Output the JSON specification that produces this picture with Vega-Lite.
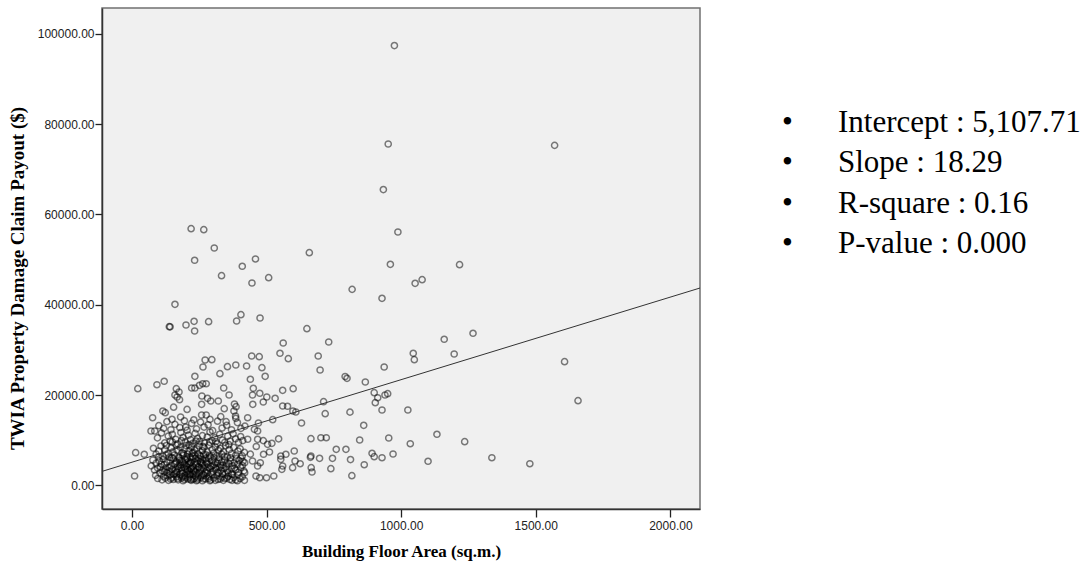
{
  "$schema": "https://vega.github.io/schema/vega-lite/v6.json",
  "background": "white",
  "padding": {"left": 7, "top": 7, "right": 5, "bottom": 2},
  "spacing": 87.5,
  "bounds": "flush",
  "config": {"font": "Liberation Sans"},
  "datasets": {
    "claims": [
      {"area": 975, "payout": 97400}, {"area": 952, "payout": 75600}, {"area": 1570, "payout": 75300}, {"area": 934, "payout": 65500}, {"area": 988, "payout": 56100},
      {"area": 220, "payout": 56840}, {"area": 267, "payout": 56620}, {"area": 306, "payout": 52560}, {"area": 233, "payout": 49840}, {"area": 659, "payout": 51520},
      {"area": 410, "payout": 48510}, {"area": 459, "payout": 50130}, {"area": 333, "payout": 46430}, {"area": 446, "payout": 44810}, {"area": 508, "payout": 45990},
      {"area": 818, "payout": 43400}, {"area": 160, "payout": 40090}, {"area": 139, "payout": 35130}, {"area": 142, "payout": 35100}, {"area": 201, "payout": 35510},
      {"area": 231, "payout": 36320}, {"area": 233, "payout": 34180}, {"area": 285, "payout": 36240}, {"area": 389, "payout": 36390}, {"area": 405, "payout": 37790},
      {"area": 476, "payout": 37060}, {"area": 650, "payout": 34690}, {"area": 731, "payout": 31740}, {"area": 562, "payout": 31520},
      {"area": 550, "payout": 29240}, {"area": 581, "payout": 28040}, {"area": 692, "payout": 28640}, {"area": 699, "payout": 25540}, {"area": 792, "payout": 24100},
      {"area": 799, "payout": 23700}, {"area": 810, "payout": 16200}, {"area": 445, "payout": 28640}, {"area": 473, "payout": 28490}, {"area": 272, "payout": 27750},
      {"area": 297, "payout": 27820}, {"area": 264, "payout": 26200}, {"area": 355, "payout": 26270}, {"area": 386, "payout": 26650}, {"area": 426, "payout": 26420},
      {"area": 483, "payout": 26050}, {"area": 327, "payout": 24720}, {"area": 495, "payout": 24140}, {"area": 234, "payout": 24140}, {"area": 440, "payout": 23480},
      {"area": 263, "payout": 22500}, {"area": 276, "payout": 22500}, {"area": 251, "payout": 22150}, {"area": 222, "payout": 21550}, {"area": 234, "payout": 21550},
      {"area": 120, "payout": 23040}, {"area": 93, "payout": 22280}, {"area": 22, "payout": 21400}, {"area": 165, "payout": 21400}, {"area": 175, "payout": 20670},
      {"area": 160, "payout": 20000}, {"area": 177, "payout": 18960}, {"area": 168, "payout": 19560}, {"area": 341, "payout": 21550}, {"area": 361, "payout": 20000},
      {"area": 451, "payout": 21490}, {"area": 475, "payout": 20380}, {"area": 560, "payout": 21040}, {"area": 599, "payout": 21400}, {"area": 501, "payout": 19560},
      {"area": 488, "payout": 18450}, {"area": 448, "payout": 20000}, {"area": 449, "payout": 17940}, {"area": 532, "payout": 19270}, {"area": 560, "payout": 17560},
      {"area": 578, "payout": 17500}, {"area": 598, "payout": 16460}, {"area": 609, "payout": 16240}, {"area": 630, "payout": 13800}, {"area": 712, "payout": 18520},
      {"area": 718, "payout": 15860}, {"area": 523, "payout": 14530}, {"area": 260, "payout": 19780}, {"area": 281, "payout": 19270}, {"area": 293, "payout": 18670},
      {"area": 321, "payout": 18670}, {"area": 343, "payout": 16970}, {"area": 259, "payout": 17940}, {"area": 259, "payout": 15570}, {"area": 276, "payout": 15570},
      {"area": 381, "payout": 18010}, {"area": 387, "payout": 17410}, {"area": 379, "payout": 16460}, {"area": 385, "payout": 15350}, {"area": 386, "payout": 14840},
      {"area": 430, "payout": 14970}, {"area": 77, "payout": 14970}, {"area": 115, "payout": 16460}, {"area": 124, "payout": 16080}, {"area": 149, "payout": 14620},
      {"area": 181, "payout": 15130}, {"area": 71, "payout": 12030}, {"area": 85, "payout": 12030}, {"area": 14, "payout": 7220}, {"area": 46, "payout": 6870},
      {"area": 10, "payout": 2060}, {"area": 665, "payout": 10320}, {"area": 702, "payout": 10540}, {"area": 722, "payout": 10540}, {"area": 759, "payout": 7970},
      {"area": 795, "payout": 7970}, {"area": 665, "payout": 6490}, {"area": 663, "payout": 6200}, {"area": 697, "payout": 5980}, {"area": 745, "payout": 5980},
      {"area": 739, "payout": 3680}, {"area": 666, "payout": 3900}, {"area": 669, "payout": 2950}, {"area": 812, "payout": 5700}, {"area": 603, "payout": 7600},
      {"area": 572, "payout": 6870}, {"area": 553, "payout": 6490}, {"area": 606, "payout": 5380}, {"area": 625, "payout": 4780}, {"area": 553, "payout": 5760},
      {"area": 560, "payout": 4270}, {"area": 597, "payout": 3900}, {"area": 557, "payout": 3540}, {"area": 527, "payout": 2060}, {"area": 500, "payout": 1680},
      {"area": 461, "payout": 2060}, {"area": 475, "payout": 1680}, {"area": 419, "payout": 2790}, {"area": 419, "payout": 5000}, {"area": 504, "payout": 9080},
      {"area": 511, "payout": 7380}, {"area": 489, "payout": 6870}, {"area": 477, "payout": 5000}, {"area": 467, "payout": 4270}, {"area": 448, "payout": 5380},
      {"area": 467, "payout": 10190}, {"area": 467, "payout": 12030},
      {"area": 960, "payout": 48950}, {"area": 1217, "payout": 48860}, {"area": 1052, "payout": 44740}, {"area": 1078, "payout": 45540}, {"area": 929, "payout": 41420},
      {"area": 1160, "payout": 32340}, {"area": 1267, "payout": 33670}, {"area": 1197, "payout": 29080}, {"area": 1045, "payout": 29240}, {"area": 1049, "payout": 27820},
      {"area": 1607, "payout": 27380}, {"area": 1657, "payout": 18740}, {"area": 937, "payout": 26200}, {"area": 867, "payout": 22880}, {"area": 900, "payout": 20510},
      {"area": 913, "payout": 19400}, {"area": 940, "payout": 20000}, {"area": 950, "payout": 20290}, {"area": 904, "payout": 18300}, {"area": 929, "payout": 16680},
      {"area": 1025, "payout": 16680}, {"area": 861, "payout": 13290}, {"area": 846, "payout": 10030}, {"area": 954, "payout": 10480}, {"area": 1133, "payout": 11300},
      {"area": 1034, "payout": 9210}, {"area": 1236, "payout": 9660}, {"area": 892, "payout": 7090}, {"area": 900, "payout": 6340}, {"area": 929, "payout": 6110},
      {"area": 970, "payout": 6930}, {"area": 863, "payout": 4560}, {"area": 817, "payout": 2130}, {"area": 1100, "payout": 5320}, {"area": 1337, "payout": 6110},
      {"area": 1478, "payout": 4780},
      {"area": 100, "payout": 13200}, {"area": 118, "payout": 12600}, {"area": 130, "payout": 14100}, {"area": 145, "payout": 12300}, {"area": 160, "payout": 13500},
      {"area": 178, "payout": 12800}, {"area": 195, "payout": 14300}, {"area": 205, "payout": 12200}, {"area": 222, "payout": 13700}, {"area": 240, "payout": 12500},
      {"area": 255, "payout": 14000}, {"area": 268, "payout": 12900}, {"area": 283, "payout": 13400}, {"area": 300, "payout": 12100}, {"area": 318, "payout": 14200},
      {"area": 335, "payout": 12700}, {"area": 352, "payout": 13300}, {"area": 370, "payout": 12300}, {"area": 392, "payout": 13900}, {"area": 405, "payout": 12600},
      {"area": 420, "payout": 13100}, {"area": 455, "payout": 12400}, {"area": 470, "payout": 13800},
      {"area": 95, "payout": 10500}, {"area": 110, "payout": 11600}, {"area": 122, "payout": 9400}, {"area": 135, "payout": 10900}, {"area": 142, "payout": 9800},
      {"area": 150, "payout": 11300}, {"area": 163, "payout": 10200}, {"area": 170, "payout": 9200}, {"area": 182, "payout": 11700}, {"area": 190, "payout": 10600},
      {"area": 198, "payout": 9600}, {"area": 210, "payout": 11100}, {"area": 218, "payout": 10100}, {"area": 226, "payout": 9300}, {"area": 235, "payout": 11500},
      {"area": 244, "payout": 10400}, {"area": 252, "payout": 9700}, {"area": 262, "payout": 11000}, {"area": 270, "payout": 9400}, {"area": 280, "payout": 10700},
      {"area": 290, "payout": 11800}, {"area": 298, "payout": 9900}, {"area": 308, "payout": 10500}, {"area": 317, "payout": 9200}, {"area": 326, "payout": 11300},
      {"area": 336, "payout": 10000}, {"area": 345, "payout": 9500}, {"area": 356, "payout": 10900}, {"area": 365, "payout": 9800}, {"area": 376, "payout": 11400},
      {"area": 385, "payout": 10300}, {"area": 396, "payout": 9500}, {"area": 404, "payout": 10800}, {"area": 412, "payout": 9900}, {"area": 430, "payout": 10200},
      {"area": 488, "payout": 9900}, {"area": 520, "payout": 9300}, {"area": 545, "payout": 10300},
      {"area": 80, "payout": 8200}, {"area": 90, "payout": 6900}, {"area": 100, "payout": 7600}, {"area": 108, "payout": 8700}, {"area": 115, "payout": 6400},
      {"area": 122, "payout": 7900}, {"area": 128, "payout": 8800}, {"area": 135, "payout": 7100}, {"area": 140, "payout": 6200}, {"area": 146, "payout": 8300},
      {"area": 152, "payout": 7400}, {"area": 158, "payout": 6700}, {"area": 164, "payout": 8900}, {"area": 168, "payout": 7800}, {"area": 174, "payout": 6300},
      {"area": 180, "payout": 8400}, {"area": 186, "payout": 7200}, {"area": 190, "payout": 6600}, {"area": 196, "payout": 8000}, {"area": 202, "payout": 8800},
      {"area": 207, "payout": 6900}, {"area": 212, "payout": 7600}, {"area": 218, "payout": 6200}, {"area": 222, "payout": 8500}, {"area": 228, "payout": 7300},
      {"area": 234, "payout": 6600}, {"area": 240, "payout": 8100}, {"area": 245, "payout": 7000}, {"area": 250, "payout": 8700}, {"area": 256, "payout": 6400},
      {"area": 262, "payout": 7700}, {"area": 268, "payout": 8400}, {"area": 274, "payout": 6800}, {"area": 280, "payout": 7400}, {"area": 286, "payout": 8900},
      {"area": 292, "payout": 6300}, {"area": 298, "payout": 7900}, {"area": 304, "payout": 7100}, {"area": 310, "payout": 8500}, {"area": 316, "payout": 6600},
      {"area": 322, "payout": 7700}, {"area": 328, "payout": 8200}, {"area": 334, "payout": 6900}, {"area": 340, "payout": 7400}, {"area": 348, "payout": 8800},
      {"area": 355, "payout": 6300}, {"area": 362, "payout": 7900}, {"area": 370, "payout": 7000}, {"area": 378, "payout": 8400}, {"area": 386, "payout": 6700},
      {"area": 394, "payout": 7600}, {"area": 402, "payout": 8100}, {"area": 410, "payout": 6500}, {"area": 418, "payout": 7300}, {"area": 440, "payout": 6900},
      {"area": 462, "payout": 8600},
      {"area": 72, "payout": 4300}, {"area": 78, "payout": 5600}, {"area": 84, "payout": 3400}, {"area": 90, "payout": 4900}, {"area": 96, "payout": 3800},
      {"area": 102, "payout": 5400}, {"area": 106, "payout": 4100}, {"area": 112, "payout": 3200}, {"area": 116, "payout": 5800}, {"area": 120, "payout": 4600},
      {"area": 125, "payout": 3600}, {"area": 130, "payout": 5100}, {"area": 134, "payout": 4000}, {"area": 138, "payout": 3100}, {"area": 142, "payout": 5500},
      {"area": 146, "payout": 4400}, {"area": 150, "payout": 3500}, {"area": 154, "payout": 5900}, {"area": 158, "payout": 4700}, {"area": 162, "payout": 3300},
      {"area": 166, "payout": 5200}, {"area": 170, "payout": 4100}, {"area": 174, "payout": 3700}, {"area": 178, "payout": 5600}, {"area": 182, "payout": 4500},
      {"area": 186, "payout": 3200}, {"area": 190, "payout": 5000}, {"area": 194, "payout": 3900}, {"area": 198, "payout": 5700}, {"area": 202, "payout": 4300},
      {"area": 206, "payout": 3400}, {"area": 210, "payout": 5300}, {"area": 214, "payout": 4800}, {"area": 218, "payout": 3600}, {"area": 222, "payout": 5800},
      {"area": 226, "payout": 4200}, {"area": 230, "payout": 3100}, {"area": 234, "payout": 5100}, {"area": 238, "payout": 4600}, {"area": 242, "payout": 3500},
      {"area": 246, "payout": 5500}, {"area": 250, "payout": 4000}, {"area": 254, "payout": 3200}, {"area": 258, "payout": 4900}, {"area": 262, "payout": 5700},
      {"area": 266, "payout": 3800}, {"area": 270, "payout": 4400}, {"area": 274, "payout": 5300}, {"area": 278, "payout": 3300}, {"area": 282, "payout": 4700},
      {"area": 286, "payout": 5900}, {"area": 290, "payout": 3700}, {"area": 294, "payout": 4200}, {"area": 298, "payout": 5400}, {"area": 302, "payout": 3100},
      {"area": 306, "payout": 4600}, {"area": 310, "payout": 5100}, {"area": 314, "payout": 3600}, {"area": 318, "payout": 4900}, {"area": 322, "payout": 5700},
      {"area": 326, "payout": 4000}, {"area": 330, "payout": 3300}, {"area": 334, "payout": 5200}, {"area": 338, "payout": 4500}, {"area": 342, "payout": 3800},
      {"area": 346, "payout": 5600}, {"area": 350, "payout": 4100}, {"area": 355, "payout": 3200}, {"area": 360, "payout": 4800}, {"area": 365, "payout": 5400},
      {"area": 370, "payout": 3600}, {"area": 375, "payout": 4300}, {"area": 380, "payout": 5000}, {"area": 386, "payout": 3400}, {"area": 392, "payout": 4600},
      {"area": 398, "payout": 5500}, {"area": 404, "payout": 3900}, {"area": 410, "payout": 4400}, {"area": 416, "payout": 3200},
      {"area": 88, "payout": 2200}, {"area": 96, "payout": 1500}, {"area": 104, "payout": 2700}, {"area": 112, "payout": 1200}, {"area": 118, "payout": 2000},
      {"area": 124, "payout": 1600}, {"area": 130, "payout": 2800}, {"area": 136, "payout": 1100}, {"area": 142, "payout": 2300}, {"area": 148, "payout": 1700},
      {"area": 154, "payout": 1300}, {"area": 160, "payout": 2600}, {"area": 166, "payout": 1900}, {"area": 172, "payout": 1200}, {"area": 178, "payout": 2400},
      {"area": 184, "payout": 1600}, {"area": 190, "payout": 1000}, {"area": 196, "payout": 2100}, {"area": 202, "payout": 2900}, {"area": 208, "payout": 1400},
      {"area": 214, "payout": 1800}, {"area": 220, "payout": 1100}, {"area": 226, "payout": 2500}, {"area": 232, "payout": 1500}, {"area": 238, "payout": 2000},
      {"area": 244, "payout": 1200}, {"area": 250, "payout": 2700}, {"area": 256, "payout": 1700}, {"area": 262, "payout": 1000}, {"area": 268, "payout": 2200},
      {"area": 274, "payout": 1400}, {"area": 280, "payout": 2800}, {"area": 286, "payout": 1900}, {"area": 292, "payout": 1200}, {"area": 298, "payout": 2400},
      {"area": 304, "payout": 1600}, {"area": 310, "payout": 1100}, {"area": 316, "payout": 2100}, {"area": 322, "payout": 2700}, {"area": 328, "payout": 1400},
      {"area": 334, "payout": 1800}, {"area": 340, "payout": 1100}, {"area": 346, "payout": 2500}, {"area": 352, "payout": 1600}, {"area": 358, "payout": 2000},
      {"area": 364, "payout": 1300}, {"area": 370, "payout": 2600}, {"area": 378, "payout": 1700}, {"area": 386, "payout": 1200}, {"area": 394, "payout": 2300},
      {"area": 402, "payout": 1500}, {"area": 410, "payout": 1900}, {"area": 418, "payout": 1100},
      {"area": 165, "payout": 2900}, {"area": 175, "payout": 6100}, {"area": 185, "payout": 3900}, {"area": 195, "payout": 1300}, {"area": 205, "payout": 5900},
      {"area": 215, "payout": 2300}, {"area": 225, "payout": 6400}, {"area": 235, "payout": 3000}, {"area": 245, "payout": 1600}, {"area": 255, "payout": 5200},
      {"area": 265, "payout": 2500}, {"area": 275, "payout": 6000}, {"area": 285, "payout": 1500}, {"area": 195, "payout": 4700}, {"area": 213, "payout": 3200},
      {"area": 227, "payout": 1300}, {"area": 243, "payout": 4900}, {"area": 259, "payout": 2100}, {"area": 217, "payout": 5000}, {"area": 233, "payout": 7800},
      {"area": 187, "payout": 1900}, {"area": 208, "payout": 2500}, {"area": 221, "payout": 3800}, {"area": 248, "payout": 6000},
      {"area": 140, "payout": 3900}, {"area": 148, "payout": 6100}, {"area": 156, "payout": 2400}, {"area": 162, "payout": 4900}, {"area": 168, "payout": 3000},
      {"area": 176, "payout": 4600}, {"area": 184, "payout": 5400}, {"area": 188, "payout": 2700}, {"area": 192, "payout": 7000}, {"area": 200, "payout": 3600},
      {"area": 204, "payout": 6300}, {"area": 209, "payout": 4500}, {"area": 216, "payout": 2800}, {"area": 220, "payout": 5100}, {"area": 224, "payout": 7100},
      {"area": 229, "payout": 3400}, {"area": 236, "payout": 5900}, {"area": 241, "payout": 2600}, {"area": 247, "payout": 4100}, {"area": 252, "payout": 6600},
      {"area": 257, "payout": 3600}, {"area": 263, "payout": 4700}, {"area": 267, "payout": 6800}, {"area": 272, "payout": 2900}, {"area": 277, "payout": 5000},
      {"area": 283, "payout": 3900}, {"area": 288, "payout": 6600}, {"area": 293, "payout": 2700}, {"area": 300, "payout": 4400}, {"area": 305, "payout": 6200},
      {"area": 311, "payout": 3900}, {"area": 319, "payout": 2900}, {"area": 324, "payout": 6100}, {"area": 331, "payout": 4300}, {"area": 337, "payout": 2600},
      {"area": 344, "payout": 6400}, {"area": 351, "payout": 4800}, {"area": 358, "payout": 2800}, {"area": 366, "payout": 6100}, {"area": 373, "payout": 2400},
      {"area": 381, "payout": 3800}, {"area": 389, "payout": 5900}, {"area": 396, "payout": 2900}, {"area": 405, "payout": 6000}, {"area": 413, "payout": 5300},
      {"area": 120, "payout": 3000}, {"area": 127, "payout": 6700}, {"area": 133, "payout": 2100}, {"area": 109, "payout": 4700}, {"area": 100, "payout": 6300},
      {"area": 144, "payout": 1400}, {"area": 170, "payout": 1500}, {"area": 198, "payout": 1700}, {"area": 218, "payout": 1300}, {"area": 240, "payout": 1000},
      {"area": 266, "payout": 1400}, {"area": 290, "payout": 1000}, {"area": 320, "payout": 1300}, {"area": 345, "payout": 1500}, {"area": 372, "payout": 1100},
      {"area": 392, "payout": 1000}, {"area": 184, "payout": 9900}, {"area": 212, "payout": 9000}, {"area": 238, "payout": 9800}, {"area": 264, "payout": 8600},
      {"area": 289, "payout": 9500}, {"area": 312, "payout": 9700}, {"area": 360, "payout": 9000}, {"area": 150, "payout": 9600}, {"area": 200, "payout": 12900},
      {"area": 230, "payout": 14500}, {"area": 290, "payout": 14600}, {"area": 155, "payout": 17300}, {"area": 205, "payout": 16800}, {"area": 330, "payout": 15200},
      {"area": 350, "payout": 14100}
    ],
    "fit": [
      {"area": -111, "payout": 3077.52},
      {"area": 2110, "payout": 43699.61}
    ],
    "stats": [
      {"line": 1, "label": "Intercept : 5,107.71"},
      {"line": 2, "label": "Slope : 18.29"},
      {"line": 3, "label": "R-square : 0.16"},
      {"line": 4, "label": "P-value : 0.000"}
    ]
  },
  "hconcat": [
    {
      "width": 598,
      "height": 501,
      "view": {"fill": "#f0f0f0", "stroke": "#707070", "strokeWidth": 1.5},
      "encoding": {
        "x": {
          "field": "area",
          "type": "quantitative",
          "scale": {"domain": [-111, 2110], "nice": false, "zero": false},
          "axis": {
            "values": [0, 500, 1000, 1500, 2000],
            "format": ".2f",
            "grid": false,
            "labelFlush": false,
            "tickSize": 8,
            "tickWidth": 1.3,
            "tickColor": "#222",
            "domainColor": "#333",
            "domainWidth": 1.5,
            "labelFont": "Liberation Sans",
            "labelFontSize": 12,
            "labelColor": "#222",
            "labelPadding": 3,
            "title": "Building Floor Area (sq.m.)",
            "titleFont": "Liberation Serif",
            "titleFontSize": 17,
            "titleFontWeight": "bold",
            "titleColor": "#000",
            "titlePadding": 12
          }
        },
        "y": {
          "field": "payout",
          "type": "quantitative",
          "scale": {"domain": [-5250, 105720], "nice": false, "zero": false},
          "axis": {
            "values": [0, 20000, 40000, 60000, 80000, 100000],
            "format": ".2f",
            "grid": false,
            "labelFlush": false,
            "tickSize": 7,
            "tickWidth": 1.3,
            "tickColor": "#222",
            "domainColor": "#333",
            "domainWidth": 1.5,
            "labelFont": "Liberation Sans",
            "labelFontSize": 12,
            "labelColor": "#222",
            "labelPadding": 1,
            "title": "TWIA Property Damage Claim Payout ($)",
            "titleFont": "Liberation Serif",
            "titleFontSize": 19,
            "titleFontWeight": "bold",
            "titleColor": "#000",
            "titlePadding": 10,
            "titleY": 270
          }
        }
      },
      "layer": [
        {
          "data": {"name": "claims"},
          "mark": {"type": "point", "shape": "circle", "filled": false, "size": 38, "stroke": "#000", "strokeWidth": 1.5, "strokeOpacity": 0.72, "clip": true}
        },
        {
          "data": {"name": "fit"},
          "mark": {"type": "line", "stroke": "#333", "strokeWidth": 1, "clip": true}
        }
      ]
    },
    {
      "width": 50.5,
      "height": 501,
      "view": {"stroke": null},
      "data": {"name": "stats"},
      "encoding": {
        "y": {
          "field": "line",
          "type": "quantitative",
          "scale": {"domain": [-2.0617, 10.3087], "reverse": true, "nice": false, "zero": false},
          "axis": null
        }
      },
      "layer": [
        {
          "mark": {"type": "text", "text": "•", "font": "Liberation Serif", "fontSize": 31, "align": "center", "baseline": "alphabetic", "color": "#000"},
          "encoding": {
            "x": {"datum": 0, "type": "quantitative", "scale": {"domain": [0, 1], "nice": false, "zero": false}, "axis": null}
          }
        },
        {
          "mark": {"type": "text", "font": "Liberation Serif", "fontSize": 31, "align": "left", "baseline": "alphabetic", "color": "#000"},
          "encoding": {
            "x": {"datum": 1, "type": "quantitative", "scale": {"domain": [0, 1], "nice": false, "zero": false}, "axis": null},
            "text": {"field": "label"}
          }
        }
      ]
    }
  ]
}
